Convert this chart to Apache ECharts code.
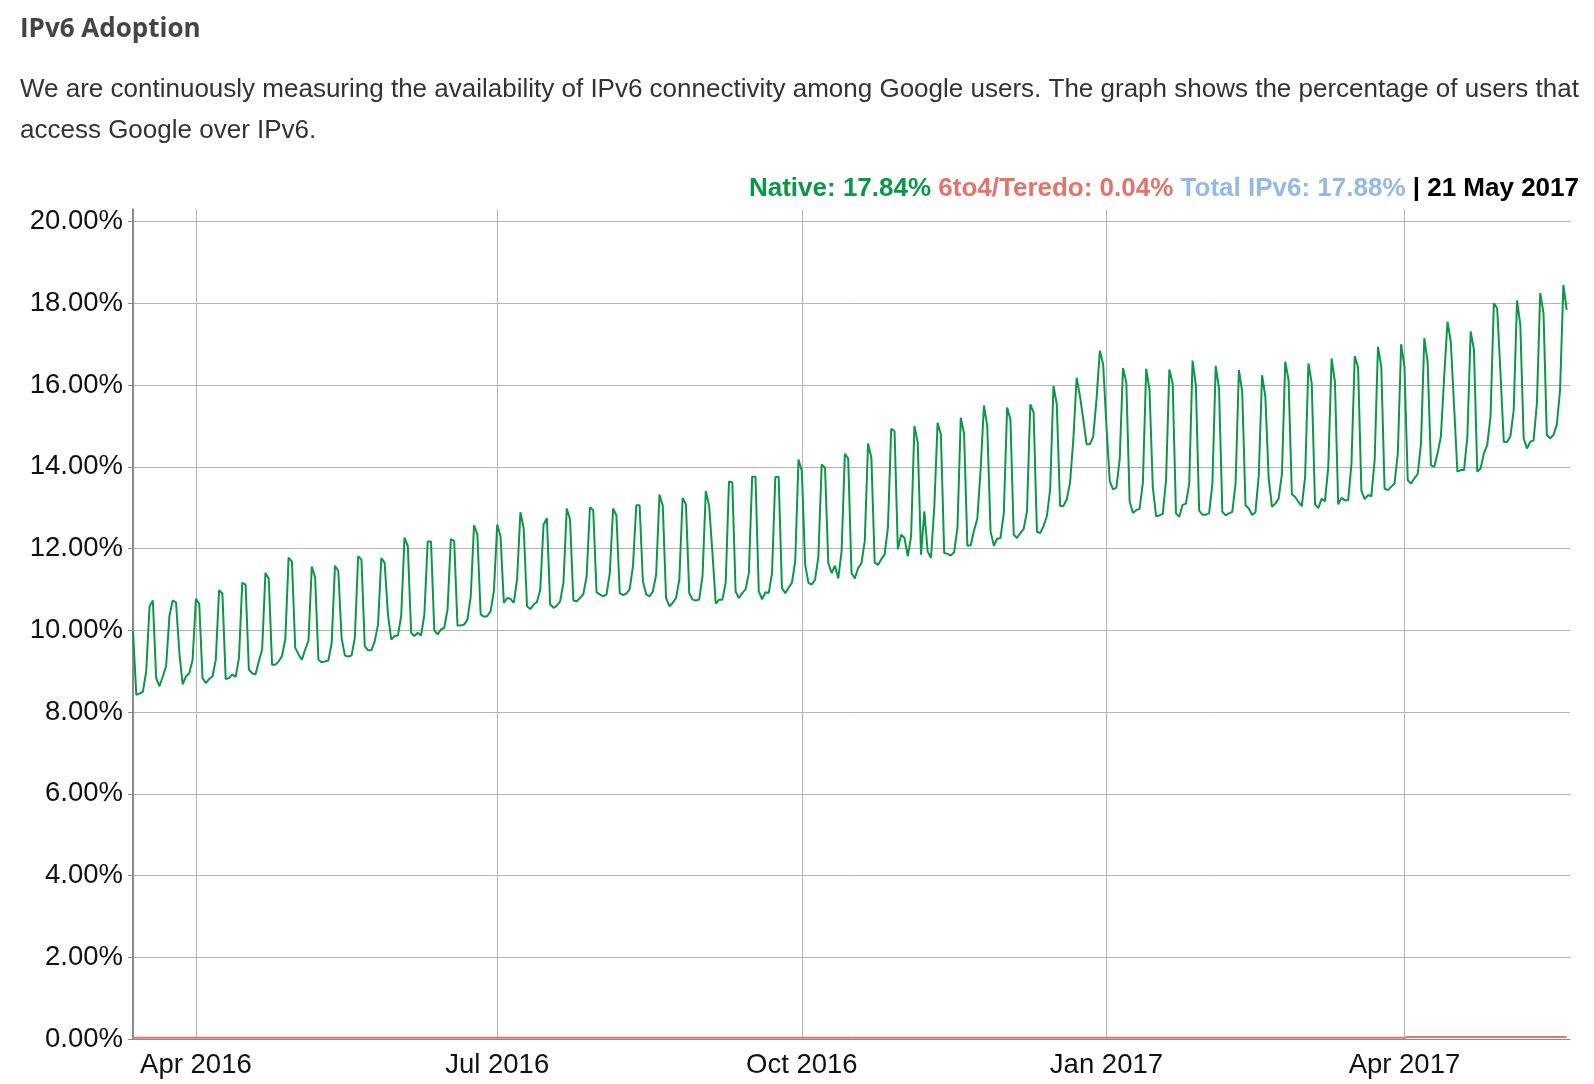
<!DOCTYPE html>
<html>
<head>
<meta charset="utf-8">
<script src="https://cdn.jsdelivr.net/npm/echarts@6/dist/echarts.min.js"></script>
<style>
html,body{margin:0;padding:0;background:#fff;}
#chart{width:1594px;height:1084px;}
</style>
</head>
<body>
<div id="chart"></div>
<script>
// Daily share of users reaching Google over native IPv6 (%), one row per week
const native = [
 9.98, 8.42, 8.45, 8.5, 9.0, 10.59, 10.73,
 8.83, 8.63, 8.87, 9.12, 10.35, 10.73, 10.68,
 9.45, 8.68, 8.87, 8.95, 9.28, 10.77, 10.65,
 8.83, 8.71, 8.81, 8.87, 9.28, 10.98, 10.9,
 8.81, 8.83, 8.92, 8.86, 9.32, 11.16, 11.12,
 9.04, 8.95, 8.92, 9.24, 9.53, 11.41, 11.26,
 9.16, 9.16, 9.24, 9.37, 9.78, 11.78, 11.68,
 9.57, 9.41, 9.28, 9.53, 9.74, 11.56, 11.29,
 9.28, 9.22, 9.24, 9.26, 9.69, 11.58, 11.45,
 9.81, 9.38, 9.36, 9.38, 9.81, 11.81, 11.73,
 9.61, 9.51, 9.51, 9.73, 10.14, 11.77, 11.65,
 10.39, 9.77, 9.86, 9.87, 10.35, 12.27, 12.06,
 9.94, 9.86, 9.94, 9.87, 10.39, 12.17, 12.17,
 10.0, 9.9, 10.02, 10.06, 10.51, 12.23, 12.19,
 10.12, 10.12, 10.14, 10.26, 10.83, 12.57, 12.35,
 10.39, 10.33, 10.35, 10.47, 10.96, 12.59, 12.3,
 10.67, 10.79, 10.77, 10.67, 11.24, 12.89, 12.49,
 10.59, 10.52, 10.63, 10.69, 11.0, 12.59, 12.74,
 10.63, 10.55, 10.6, 10.71, 11.16, 12.98, 12.71,
 10.73, 10.71, 10.79, 10.88, 11.32, 13.01, 12.94,
 10.93, 10.88, 10.83, 10.88, 11.4, 12.98, 12.81,
 10.91, 10.86, 10.9, 11.0, 11.57, 13.06, 13.06,
 11.2, 10.88, 10.83, 10.95, 11.36, 13.32, 13.05,
 10.79, 10.59, 10.67, 10.79, 11.24, 13.24, 13.08,
 10.91, 10.75, 10.73, 10.75, 11.32, 13.41, 13.05,
 11.9, 10.65, 10.75, 10.75, 11.16, 13.64, 13.62,
 10.95, 10.79, 10.91, 11.0, 11.4, 13.76, 13.76,
 10.95, 10.76, 10.93, 10.91, 11.4, 13.75, 13.75,
 11.03, 10.91, 11.04, 11.16, 11.69, 14.18, 13.9,
 11.6, 11.16, 11.12, 11.24, 11.81, 14.06, 13.98,
 11.64, 11.4, 11.58, 11.27, 11.93, 14.32, 14.2,
 11.4, 11.27, 11.52, 11.64, 12.18, 14.57, 14.22,
 11.66, 11.6, 11.74, 11.85, 12.52, 14.93, 14.87,
 11.98, 12.34, 12.26, 11.81, 12.3, 15.0, 14.6,
 11.85, 12.91, 11.93, 11.77, 13.0, 15.08, 14.79,
 11.89, 11.87, 11.83, 11.91, 12.51, 15.2, 14.81,
 12.07, 12.08, 12.44, 12.73, 13.94, 15.5, 15.0,
 12.42, 12.07, 12.24, 12.26, 12.87, 15.45, 15.16,
 12.34, 12.26, 12.38, 12.48, 12.91, 15.53, 15.33,
 12.41, 12.38, 12.55, 12.79, 13.45, 15.98, 15.53,
 13.04, 13.04, 13.2, 13.61, 14.67, 16.18, 15.73,
 15.16, 14.55, 14.55, 14.74, 15.65, 16.84, 16.51,
 15.0, 13.65, 13.45, 13.49, 14.18, 16.42, 16.06,
 13.16, 12.87, 12.94, 12.97, 13.61, 16.4, 15.89,
 13.5, 12.79, 12.81, 12.85, 13.67, 16.38, 16.04,
 12.86, 12.78, 13.07, 13.1, 13.59, 16.6, 16.0,
 12.93, 12.83, 12.83, 12.86, 13.59, 16.47, 15.92,
 12.9, 12.81, 12.86, 12.9, 13.59, 16.37, 15.84,
 13.06, 12.98, 12.82, 12.89, 13.79, 16.24, 15.71,
 13.71, 13.02, 13.1, 13.22, 13.83, 16.57, 16.12,
 13.33, 13.26, 13.14, 13.04, 13.75, 16.53, 16.04,
 13.08, 12.99, 13.22, 13.16, 14.0, 16.65, 16.08,
 13.08, 13.24, 13.18, 13.18, 14.08, 16.71, 16.43,
 13.41, 13.21, 13.31, 13.28, 14.16, 16.94, 16.45,
 13.47, 13.43, 13.51, 13.59, 14.33, 17.0, 16.45,
 13.67, 13.59, 13.72, 13.82, 14.57, 17.15, 16.57,
 14.04, 14.0, 14.33, 14.74, 16.2, 17.55, 17.06,
 15.47, 13.88, 13.92, 13.92, 14.74, 17.31, 16.86,
 13.88, 13.96, 14.33, 14.53, 15.23, 18.0, 17.88,
 16.3, 14.61, 14.61, 14.75, 15.39, 18.07, 17.47,
 14.7, 14.45, 14.61, 14.65, 15.55, 18.25, 17.76,
 14.78, 14.7, 14.78, 15.02, 15.88, 18.45, 17.84
];

// Daily 6to4/Teredo share (%), one row per week
const teredo = [
 0.03,0.03,0.03,0.03,0.03,0.03,0.03, 0.03,0.03,0.03,0.03,0.03,0.03,0.03,
 0.03,0.03,0.03,0.03,0.03,0.03,0.03, 0.03,0.03,0.03,0.03,0.03,0.03,0.03,
 0.03,0.03,0.03,0.03,0.03,0.03,0.03, 0.03,0.03,0.03,0.03,0.03,0.03,0.03,
 0.03,0.03,0.03,0.03,0.03,0.03,0.03, 0.03,0.03,0.03,0.03,0.03,0.03,0.03,
 0.03,0.03,0.03,0.03,0.03,0.03,0.03, 0.03,0.03,0.03,0.03,0.03,0.03,0.03,
 0.03,0.03,0.03,0.03,0.03,0.03,0.03, 0.03,0.03,0.03,0.03,0.03,0.03,0.03,
 0.03,0.03,0.03,0.03,0.03,0.03,0.03, 0.03,0.03,0.03,0.03,0.03,0.03,0.03,
 0.03,0.03,0.03,0.03,0.03,0.03,0.03, 0.03,0.03,0.03,0.03,0.03,0.03,0.03,
 0.03,0.03,0.03,0.03,0.03,0.03,0.03, 0.03,0.03,0.03,0.03,0.03,0.03,0.03,
 0.03,0.03,0.03,0.03,0.03,0.03,0.03, 0.03,0.03,0.03,0.03,0.03,0.03,0.03,
 0.03,0.03,0.03,0.03,0.03,0.03,0.03, 0.03,0.03,0.03,0.03,0.03,0.03,0.03,
 0.03,0.03,0.03,0.03,0.03,0.03,0.03, 0.03,0.03,0.03,0.03,0.03,0.03,0.03,
 0.03,0.03,0.03,0.03,0.03,0.03,0.03, 0.03,0.03,0.03,0.03,0.03,0.03,0.03,
 0.03,0.03,0.03,0.03,0.03,0.03,0.03, 0.03,0.03,0.03,0.03,0.03,0.03,0.03,
 0.03,0.03,0.03,0.03,0.03,0.03,0.03, 0.03,0.03,0.03,0.03,0.03,0.03,0.03,
 0.03,0.03,0.03,0.03,0.03,0.03,0.03, 0.03,0.03,0.03,0.03,0.03,0.03,0.03,
 0.03,0.03,0.03,0.03,0.03,0.03,0.03, 0.03,0.03,0.03,0.03,0.03,0.03,0.03,
 0.03,0.03,0.03,0.03,0.03,0.03,0.03, 0.03,0.03,0.03,0.03,0.03,0.03,0.03,
 0.03,0.03,0.03,0.03,0.03,0.03,0.03, 0.03,0.03,0.03,0.03,0.03,0.03,0.03,
 0.03,0.03,0.03,0.03,0.03,0.03,0.03, 0.03,0.03,0.03,0.03,0.03,0.03,0.03,
 0.03,0.03,0.03,0.03,0.03,0.03,0.03, 0.03,0.03,0.03,0.03,0.03,0.03,0.03,
 0.03,0.03,0.03,0.03,0.03,0.03,0.03, 0.03,0.03,0.03,0.03,0.03,0.03,0.03,
 0.03,0.03,0.03,0.03,0.03,0.03,0.03, 0.03,0.03,0.03,0.03,0.03,0.03,0.03,
 0.03,0.03,0.03,0.03,0.03,0.03,0.03, 0.03,0.03,0.03,0.03,0.03,0.03,0.03,
 0.03,0.03,0.03,0.03,0.03,0.03,0.03, 0.03,0.03,0.03,0.03,0.03,0.03,0.03,
 0.03,0.03,0.03,0.03,0.03,0.03,0.03, 0.03,0.03,0.03,0.03,0.03,0.03,0.03,
 0.03,0.03,0.03,0.03,0.03,0.03,0.03, 0.03,0.03,0.03,0.03,0.03,0.03,0.03,
 0.03,0.03,0.03,0.03,0.03,0.03,0.03,
 0.05,0.05,0.05,0.05,0.05,0.05,0.05, 0.05,0.05,0.05,0.05,0.05,0.05,0.05,
 0.05,0.05,0.05,0.05,0.05,0.05,0.05, 0.05,0.05,0.05,0.05,0.05,0.05,0.05,
 0.05,0.05,0.05,0.05,0.05,0.05,0.05, 0.05,0.05,0.05,0.05,0.05,0.05,0.05,
 0.05,0.05,0.05,0.05,0.05,0.05,0.04
];

const startDate = '2016-03-13';
const dayCount = 435;
const lastDateLabel = '21 May 2017';
const quarterStarts = ['2016-04-01', '2016-07-01', '2016-10-01', '2017-01-01', '2017-04-01'];
const quarterLabels = ['Apr 2016', 'Jul 2016', 'Oct 2016', 'Jan 2017', 'Apr 2017'];

const dates = [];
const t0 = Date.parse(startDate + 'T00:00:00Z');
for (let i = 0; i < dayCount; i++) {
  dates.push(new Date(t0 + i * 86400000).toISOString().slice(0, 10));
}
const isQuarter = (idx, val) => quarterStarts.indexOf(val) >= 0;

const GREEN = '#0b9846', RED = '#e57368', BLUE = '#94b9e8';
const FONT = "'Liberation Sans', Arial, Helvetica, sans-serif";
const lastNative = native[native.length - 1];
const lastTeredo = teredo[teredo.length - 1];
const lastTotal = lastNative + lastTeredo;

const axisBottom = 1039, top20 = 221.6;
const pxPerPct = (axisBottom - top20) / 20;
const outerMax = 20.3;

const chart = echarts.init(document.getElementById('chart'), null, {renderer: 'canvas'});
chart.setOption({
  animation: false,
  backgroundColor: '#fff',
  title: [
    {
      text: 'IPv6 Adoption', left: 20, top: 15, padding: 0,
      textStyle: {fontFamily: "'Open Sans', sans-serif", fontWeight: 'bold', fontSize: 26, color: '#444', lineHeight: 30}
    },
    {
      text: 'We are continuously measuring the availability of IPv6 connectivity among Google users. The graph shows the percentage of users that\naccess Google over IPv6.',
      left: 20, top: 70, padding: 0,
      textStyle: {fontFamily: FONT, fontWeight: 'normal', fontSize: 26, color: '#333', lineHeight: 40.6}
    },
    {
      text: '{g|Native: ' + lastNative.toFixed(2) + '%} {r|6to4/Teredo: ' + lastTeredo.toFixed(2) + '%} {b|Total IPv6: ' + lastTotal.toFixed(2) + '%} {k|| ' + lastDateLabel + '}',
      right: 15, top: 174, padding: 0,
      textStyle: {
        fontFamily: FONT, fontWeight: 'bold', fontSize: 26, color: '#000', lineHeight: 30,
        rich: {
          g: {color: GREEN, fontFamily: FONT, fontWeight: 'bold', fontSize: 26},
          r: {color: RED, fontFamily: FONT, fontWeight: 'bold', fontSize: 26},
          b: {color: BLUE, fontFamily: FONT, fontWeight: 'bold', fontSize: 26},
          k: {color: '#000', fontFamily: FONT, fontWeight: 'bold', fontSize: 26}
        }
      }
    }
  ],
  grid: [
    {left: 133, right: 24, top: axisBottom - outerMax * pxPerPct, bottom: 1084 - axisBottom},
    {left: 133, right: 24, top: top20, bottom: 1084 - axisBottom}
  ],
  xAxis: [
    {
      type: 'category', gridIndex: 0, data: dates, boundaryGap: false,
      axisLine: {show: true, lineStyle: {color: '#8a8a8a', width: 1}},
      axisTick: {show: false},
      axisLabel: {
        interval: isQuarter, margin: 12,
        formatter: v => quarterLabels[quarterStarts.indexOf(v)] || '',
        fontFamily: FONT, fontSize: 27.5, color: '#111'
      },
      splitLine: {show: true, interval: isQuarter, lineStyle: {color: '#b4b4b4', width: 1}}
    },
    {
      type: 'category', gridIndex: 1, data: dates, boundaryGap: false, show: false
    }
  ],
  yAxis: [
    {
      type: 'value', gridIndex: 0, min: 0, max: outerMax,
      axisLine: {show: true, lineStyle: {color: '#8a8a8a', width: 2}},
      axisTick: {show: false}, axisLabel: {show: false}, splitLine: {show: false}
    },
    {
      type: 'value', gridIndex: 1, min: 0, max: 20, interval: 2,
      axisLine: {show: false},
      axisTick: {show: true, length: 5, lineStyle: {color: '#8a8a8a'}},
      axisLabel: {
        margin: 10, formatter: v => v.toFixed(2) + '%', padding: [5, 0, 0, 0],
        fontFamily: FONT, fontSize: 27.5, color: '#111'
      },
      splitLine: {show: true, lineStyle: {color: '#b4b4b4', width: 1}}
    }
  ],
  series: [
    {
      name: '6to4/Teredo', type: 'line', xAxisIndex: 0, yAxisIndex: 0,
      data: teredo, showSymbol: false, symbol: 'none',
      lineStyle: {color: RED, width: 2}, z: 3
    },
    {
      name: 'Native', type: 'line', xAxisIndex: 0, yAxisIndex: 0,
      data: native, showSymbol: false, symbol: 'none',
      lineStyle: {color: GREEN, width: 2}, z: 4
    }
  ]
});
</script>
</body>
</html>
